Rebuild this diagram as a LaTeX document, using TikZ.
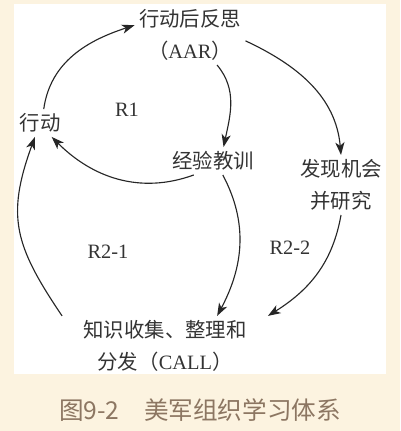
\documentclass[tikz,border=0pt]{standalone}
\usepackage{fontspec}
\setmainfont{Liberation Serif}
\newfontfamily\cjk{Noto Sans CJK SC}
\usepackage{xcolor}
\usetikzlibrary{arrows.meta, positioning}
\definecolor{cream}{HTML}{FCF3E0}
\definecolor{captionbrown}{HTML}{8C7662}
\definecolor{inkgray}{HTML}{333333}
\tikzset{
  concept/.style={align=center, inner sep=3pt, text=inkgray,
                  font=\fontsize{14.5}{22.8}\selectfont},
  looplabel/.style={text=inkgray, font=\fontsize{14.5}{17}\selectfont},
  flowarrow/.style={-{Stealth[length=9pt, width=6.5pt, inset=2.5pt]}, line width=0.8pt, black!85},
  captiontext/.style={text=captionbrown, font=\cjk\fontsize{17.5}{20}\selectfont}
}
\begin{document}
\begin{tikzpicture}[x=0.025cm, y=-0.025cm]

% Page and panel
\path[use as bounding box, fill=cream] (0,0) rectangle (400,431);
\fill[white] (14,4) rectangle (386,374);

% Concepts
\node[concept] (aar) at (190,35) {{\cjk 行动后反思}\\{\cjk （}AAR{\cjk ）}};
\node[concept] (act) at (40,123) {\cjk 行动};
\node[concept] (lesson) at (213,161) {\cjk 经验教训};
\node[concept] (opp) at (341,185) {\cjk 发现机会\\\cjk 并研究};
\node[concept, inner xsep=15pt] (know) at (165,346) {\cjk 知识收集、整理和\\{\cjk 分发（}CALL{\cjk ）}};

% Loop labels
\node[looplabel] (r1) at (127,110) {R1};
\node[looplabel] (r21) at (108,252) {R2-1};
\node[looplabel] (r22) at (290,248) {R2-2};

% Arrows - loop R1
\draw[flowarrow] (act.75) to[out=82, in=198] (aar.170);
\draw[flowarrow] (aar.-48) to[out=-50, in=78] (lesson.53);
\draw[flowarrow] (lesson.-144) to[out=-160, in=-45] (act.-50);

% Arrows - loops R2
\draw[flowarrow] (aar.-6) to[out=-25, in=95] (opp.north);
\draw[flowarrow] (lesson.-55) to[out=-62, in=62] (know.30);
\draw[flowarrow] (opp.south) to[out=-100, in=32] (know.north east);
\draw[flowarrow] (know.north west) to[out=124, in=-110, looseness=1.2] (act.-110);

% Caption
\node[captiontext] (caption) at (200,410) {图9-2　美军组织学习体系};

\end{tikzpicture}
\end{document}
